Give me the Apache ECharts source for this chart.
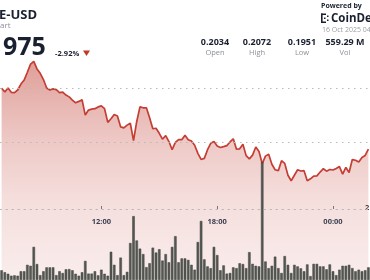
<!DOCTYPE html>
<html><head><meta charset="utf-8">
<script src="https://cdn.jsdelivr.net/npm/echarts@6/dist/echarts.min.js"></script>
<style>html,body{margin:0;padding:0;background:#fff;overflow:hidden}#c{width:370px;height:280px}</style>
</head><body><div id="c"></div>
<script>
const times = ["06:50",
"07:00","07:10","07:20","07:30","07:40","07:50",
"08:00","08:10","08:20","08:30","08:40","08:50",
"09:00","09:10","09:20","09:30","09:40","09:50",
"10:00","10:10","10:20","10:30","10:40","10:50",
"11:00","11:10","11:20","11:30","11:40","11:50",
"12:00","12:10","12:20","12:30","12:40","12:50",
"13:00","13:10","13:20","13:30","13:40","13:50",
"14:00","14:10","14:20","14:30","14:40","14:50",
"15:00","15:10","15:20","15:30","15:40","15:50",
"16:00","16:10","16:20","16:30","16:40","16:50",
"17:00","17:10","17:20","17:30","17:40","17:50",
"18:00","18:10","18:20","18:30","18:40","18:50",
"19:00","19:10","19:20","19:30","19:40","19:50",
"20:00","20:10","20:20","20:30","20:40","20:50",
"21:00","21:10","21:20","21:30","21:40","21:50",
"22:00","22:10","22:20","22:30","22:40","22:50",
"23:00","23:10","23:20","23:30","23:40","23:50",
"00:00","00:10","00:20","00:30","00:40","00:50",
"01:00","01:10","01:20","01:30","01:40","01:50"];

const price = [0.20449,0.20412,0.20451,0.20407,0.20405,0.20431,0.20491,0.20532,0.20611,0.20694,
0.20722,0.20645,0.20600,0.20537,0.20451,0.20431,0.20442,0.20435,0.20405,0.20410,
0.20380,0.20361,0.20329,0.20301,0.20315,0.20333,0.20176,0.20227,0.20236,0.20241,
0.20259,0.20269,0.20241,0.20102,0.20139,0.20181,0.20167,0.20056,0.20046,0.20074,
0.20093,0.19917,0.20111,0.20259,0.20250,0.20250,0.20148,0.20037,0.20042,0.19991,
0.19931,0.19968,0.19907,0.19824,0.19898,0.19926,0.19926,0.19972,0.19926,0.19912,
0.19870,0.19787,0.19725,0.19736,0.19824,0.19889,0.19907,0.19861,0.19847,0.19856,
0.19866,0.19903,0.19935,0.19829,0.19833,0.19880,0.19764,0.19731,0.19769,0.19852,
0.19806,0.19681,0.19759,0.19778,0.19676,0.19620,0.19611,0.19713,0.19685,0.19565,
0.19509,0.19565,0.19620,0.19608,0.19611,0.19509,0.19528,0.19556,0.19558,0.19597,
0.19631,0.19606,0.19623,0.19618,0.19634,0.19653,0.19576,0.19644,0.19593,0.19724,
0.19717,0.19699,0.19745,0.19766,0.19829];

const volume = [5,4,3.2,2.2,2.4,2.2,4.5,4.5,7.8,7.3,
17,8.2,2.5,4.5,6.5,6.5,6.5,2.5,4.5,3.6,
5.5,5.6,5,3.2,2.2,4,9.8,3.3,3.3,4.5,
2.4,5.3,3.2,2.2,14.5,7.8,2.5,11.5,2.5,4.2,
19,32.8,20.3,16.1,13.3,6.6,8.6,16.6,14.1,15.8,
10,13.3,9.1,17,22.5,9.1,11.1,11.1,10.3,7.8,
5.3,19.5,30.3,10.6,7,6.1,17,12.8,5,7.5,
3.3,3.6,6.5,6.1,8.6,8.2,6.1,14.3,8.3,7.3,
7,60.5,9.5,6.1,7.3,12,6.1,3.6,12.3,7.8,
3.6,7.8,7,6,4.5,8,2,8.3,8.3,7,
7,5.5,8,4.5,2.5,5.3,7.3,7.3,7.8,6.1,
4.5,5.3,4.5,5,6.5];

const tickLabels = ["12:00","18:00","00:00"];
const gridLevels = [0.205, 0.200];
const statValues = ["0.2034","0.2072","0.1951","559.29 M"];
const statLabels = ["Open","High","Low","Vol"];

const FONT = '"Open Sans", "DejaVu Sans", sans-serif';
const DARK = '#1b2030';
const GREY = '#8a8f99';
const DOTS = {color:'#b9b9b9', width:1, type:[1.5,4.5]};
const statX = [215, 257, 302, 345];

const graphics = [
  {type:'text', x:-1, y:15, style:{text:'E-USD', font:'bold 13px '+FONT, fill:DARK, textVerticalAlign:'middle'}},
  {type:'text', x:0, y:26, style:{text:'art', font:'8px '+FONT, fill:GREY, textVerticalAlign:'middle'}},
  {type:'text', x:3, y:48, style:{text:'975', font:'bold 25px '+FONT, fill:DARK, textVerticalAlign:'middle'}},
  {type:'text', x:55, y:53.5, style:{text:'-2.92%', font:'bold 7.5px '+FONT, fill:DARK, textVerticalAlign:'middle'}},
  {type:'polygon', shape:{points:[[83,50.5],[90,50.5],[86.5,56]]}, style:{fill:'#c0392b'}},
  {type:'text', x:321, y:5.5, style:{text:'Powered by', font:'bold 7px '+FONT, fill:DARK, textVerticalAlign:'middle'}},
  {type:'rect', shape:{x:321, y:13.5, width:1.6, height:9.5}, style:{fill:DARK}},
  {type:'rect', shape:{x:321, y:13.5, width:5, height:1.5}, style:{fill:DARK}},
  {type:'rect', shape:{x:321, y:21.5, width:5, height:1.5}, style:{fill:DARK}},
  {type:'rect', shape:{x:324, y:17.5, width:1.5, height:1.5}, style:{fill:DARK}},
  {type:'rect', shape:{x:327, y:15.5, width:1.5, height:1.5}, style:{fill:DARK}},
  {type:'rect', shape:{x:327, y:19.5, width:1.5, height:1.5}, style:{fill:DARK}},
  {type:'text', x:331, y:18.5, style:{text:'CoinDesk', font:'bold 11.5px '+FONT, fill:DARK, textVerticalAlign:'middle'}},
  {type:'text', x:322, y:30, style:{text:'16 Oct 2025 04:00', font:'7px '+FONT, fill:'#9a9ea6', textVerticalAlign:'middle'}},
  {type:'text', x:365, y:208, style:{text:'2', font:'bold 7.5px '+FONT, fill:'#3c4150', textVerticalAlign:'middle'}}
];
statValues.forEach((v,i)=>{
  graphics.push({type:'text', x:statX[i], y:42.5, style:{text:v, font:'bold 9px '+FONT, fill:DARK, textAlign:'center', textVerticalAlign:'middle'}});
  graphics.push({type:'text', x:statX[i], y:53, style:{text:statLabels[i], font:'7.5px '+FONT, fill:GREY, textAlign:'center', textVerticalAlign:'middle'}});
});

const tickFilter = (idx, val) => tickLabels.indexOf(val !== undefined ? val : times[idx]) >= 0;
const gridW = 371.5;
// price axis: 0.210 at y=34, 0.185 at y=304
const pMax = 0.21, pMin = 0.185, pTop = 34, pH = 270;
const yOf = v => pTop + (pMax - v) / (pMax - pMin) * pH;

const chart = echarts.init(document.getElementById('c'), null, {renderer:'canvas'});
chart.setOption({
  animation:false,
  backgroundColor:'#fff',
  grid:[
    {left:0, width:gridW, top:pTop, height:pH},
    {left:0, width:gridW, top:130, height:154},
    {left:0, width:gridW, top:209, height:20},
    {left:0, width:gridW, top:yOf(gridLevels[0]), height:yOf(gridLevels[1]) - yOf(gridLevels[0])}
  ],
  xAxis:[
    {gridIndex:0, type:'category', data:times, boundaryGap:true, show:false},
    {gridIndex:1, type:'category', data:times, boundaryGap:true, show:false},
    {gridIndex:2, type:'category', data:times, boundaryGap:true, position:'top', z:5,
      axisLine:{show:true, onZero:false, lineStyle:DOTS},
      axisTick:{show:true, alignWithLabel:true, interval:tickFilter, length:3, lineStyle:{color:'#777', width:1}},
      axisLabel:{show:true, inside:true, interval:tickFilter, margin:9, color:'#3c4150', fontWeight:'bold', fontSize:7.5, fontFamily:FONT},
      splitLine:{show:false}},
    {gridIndex:3, type:'category', data:times, show:false}
  ],
  yAxis:[
    {gridIndex:0, type:'value', min:pMin, max:pMax, show:false, splitLine:{show:false}},
    {gridIndex:1, type:'value', min:0, max:77, show:false, splitLine:{show:false}},
    {gridIndex:2, type:'value', min:0, max:1, show:false, splitLine:{show:false}},
    {gridIndex:3, type:'value', min:gridLevels[1], max:gridLevels[0], interval:gridLevels[0]-gridLevels[1], z:5,
      axisLine:{show:false}, axisTick:{show:false}, axisLabel:{show:false},
      splitLine:{show:true, lineStyle:DOTS}}
  ],
  series:[
    {type:'line', xAxisIndex:0, yAxisIndex:0, data:price, showSymbol:false, symbol:'none',
      lineStyle:{color:'#c43e33', width:1.7},
      areaStyle:{origin:'start', color:{type:'linear', x:0, y:64, x2:0, y2:280, global:true,
        colorStops:[
          {offset:0, color:'rgba(192,60,48,0.70)'},
          {offset:0.17, color:'rgba(192,60,48,0.54)'},
          {offset:0.35, color:'rgba(192,60,48,0.40)'},
          {offset:0.63, color:'rgba(192,60,48,0.24)'},
          {offset:1, color:'rgba(192,60,48,0.13)'}]}},
      z:2},
    {type:'bar', xAxisIndex:1, yAxisIndex:1, data:volume, barCategoryGap:'22%',
      itemStyle:{color:'#545853', borderColor:'#3f433e', borderWidth:0.5}, z:3}
  ],
  graphic:graphics
});
</script></body></html>
